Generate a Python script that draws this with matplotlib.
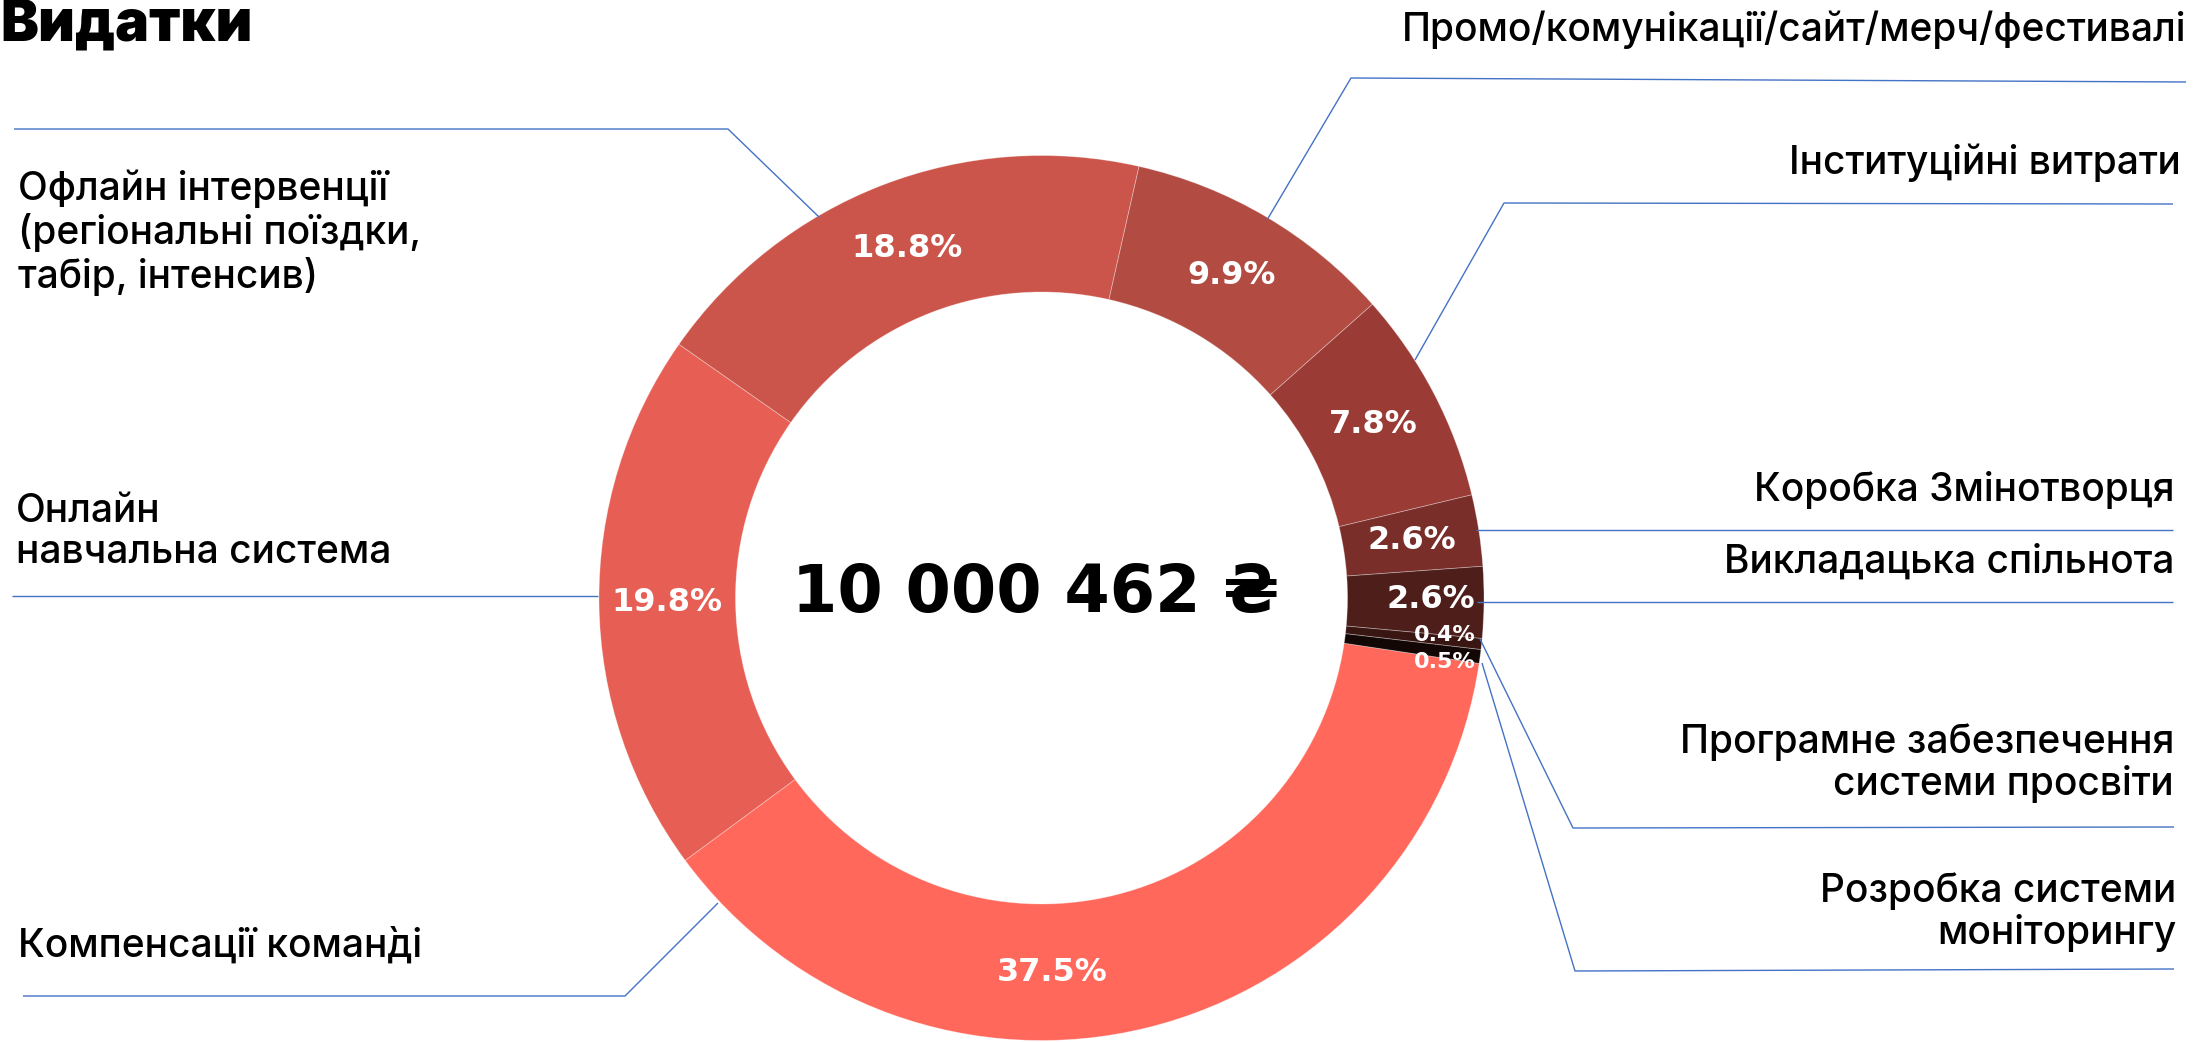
import numpy as np
import matplotlib.pyplot as plt

# --- data -------------------------------------------------------------
categories = [
    'Компенсації коман\u0300ді',
    'Онлайн\nнавчальна система',
    'Офлайн інтервенції\n(регіональні поїздки,\nтабір, інтенсив)',
    'Промо/комунікації/сайт/мерч/фестивалі',
    'Інституційні витрати',
    'Коробка Змінотворця',
    'Викладацька спільнота',
    'Програмне забезпечення\nсистеми просвіти',
    'Розробка системи\nмоніторингу',
]
shares = [37.5, 19.8, 18.8, 9.9, 7.8, 2.6, 2.6, 0.4, 0.5]
pct_labels = ['37.5%', '19.8%', '18.8%', '9.9%', '7.8%', '2.6%', '2.6%', '0.4%', '0.5%']
total = '10 000 462 ₴'
title = 'Видатки'

colors = ['#FF685B', '#E65E54', '#CC554B', '#B24C43', '#9B3B36',
          '#792E2A', '#4E1E1B', '#3A1613', '#130705']

# --- layout (pixels, y measured from top) -----------------------------
W, H = 2196, 1042
cx, cy = 1041.5, 598
R, r_in = 442.5, 306
start = -8.5

def Y(y):
    return H - y

# label placement per category: side, x, y-centre of block
cat_pos = [
    ('left', 18, 946),
    ('left', 16, 532),
    ('left', 18, 233),
    ('right', 2186, 30),
    ('right', 2181, 163),
    ('right', 2174, 490),
    ('right', 2174, 562),
    ('right', 2174, 763),
    ('right', 2176, 912),
]
leaders = [
    [(23, 996), (625, 996), (718, 903)],
    [(12, 596), (598, 596)],
    [(14, 129), (728, 129), (819, 217)],
    [(1267, 220), (1351, 78), (2186, 82)],
    [(1415, 360), (1504, 203), (2173, 204)],
    [(1476, 530), (2173, 530)],
    [(1477, 602), (2173, 602)],
    [(1480, 639), (1573, 828), (2174, 827)],
    [(1482, 663), (1575, 971), (2174, 969)],
]
# percentage labels moved off the wedge middle: index -> (angle, radius)
pct_override = {0: (-88.4, 375), 6: (-0.2, 389), 7: (-5.2, 405), 8: (-9.0, 408)}

fig = plt.figure(figsize=(W / 100, H / 100), dpi=100)
ax = fig.add_axes([0, 0, 1, 1])

wedges, _ = ax.pie(shares, colors=colors, startangle=start, counterclock=False,
                   center=(cx, Y(cy)), radius=R,
                   wedgeprops=dict(width=R - r_in, edgecolor=(1, 1, 1, 0.35), linewidth=0.6))
ax.set_xlim(0, W)
ax.set_ylim(0, H)
ax.set_aspect('equal')
ax.axis('off')

for i, w in enumerate(wedges):
    if i in pct_override:
        ang, rr = pct_override[i]
    else:
        ang, rr = (w.theta1 + w.theta2) / 2, (R + r_in) / 2
    x = cx + rr * np.cos(np.radians(ang))
    y = Y(cy) + rr * np.sin(np.radians(ang))
    fs = 16 if shares[i] < 1 else 23
    ax.text(x, y, pct_labels[i], color='white', fontsize=fs, fontweight='bold',
            family='DejaVu Sans', ha='center', va='center')

ax.text(1036, Y(594), total, fontsize=47, fontweight='bold', family='DejaVu Sans',
        ha='center', va='center', color='black')

for pts in leaders:
    xs = [p[0] for p in pts]
    ys = [Y(p[1]) for p in pts]
    ax.plot(xs, ys, color='#4472C4', lw=1.0, solid_capstyle='butt')

for name, (side, x, y) in zip(categories, cat_pos):
    ax.text(x, Y(y), name, fontsize=28, fontweight='medium', family=['Inter', 'DejaVu Sans'],
            ha=side, va='center', ma=side, linespacing=1.16, color='black')

ax.text(0, Y(40), title, fontsize=41, fontweight='black', family=['Inter', 'DejaVu Sans'],
        ha='left', va='baseline', color='black')

fig.savefig('out.png', dpi=100)
